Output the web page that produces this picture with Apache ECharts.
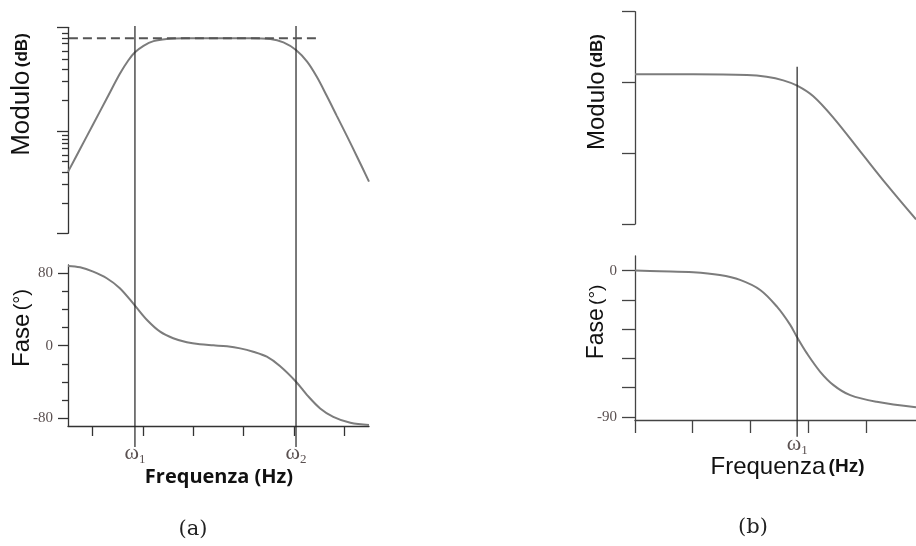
<!DOCTYPE html>
<html>
<head>
<meta charset="utf-8">
<script src="https://cdn.jsdelivr.net/npm/echarts@6/dist/echarts.min.js"></script>
<style>html,body{margin:0;padding:0;background:#fff}#c{width:916px;height:546px}</style>
</head>
<body>
<div id="c"></div>
<script>
// ---------- (a) band-pass: x = log10(frequency) ----------
const magA_x  = [0.51, 0.75, 1.01, 1.28, 1.54, 1.71, 1.84, 2.01, 2.21, 2.47, 2.84, 3.53, 4.13, 4.53, 4.79, 5.04, 5.26, 5.45, 5.65, 5.85, 6.05, 6.25, 6.49];
const magA_db = [-28.6, -23.7, -18.4, -12.9, -7.6, -4.7, -3.0, -1.6, -0.6, -0.15, 0, 0, 0, -0.15, -0.86, -2.5, -5.0, -8.2, -12.3, -16.6, -20.9, -25.3, -30.7];
const phA_x   = [0.51, 0.75, 1.01, 1.28, 1.54, 1.84, 2.08, 2.34, 2.60, 2.87, 3.13, 3.40, 3.67, 3.93, 4.19, 4.46, 4.72, 5.04, 5.26, 5.52, 5.78, 6.12, 6.49];
const phA_deg = [88.0, 86.5, 81.7, 74.4, 63.4, 44.2, 28.4, 15.5, 8.2, 3.8, 1.5, 0.4, -0.7, -2.9, -6.6, -12.1, -22.4, -39.7, -54.4, -69.1, -78.4, -85.0, -87.5];
const omegaA = [1.84, 5.04];
const omegaA_names = ['1', '2'];
const refA_x = [0.25, 5.52];      // dashed pass-band reference (0 dB)
const refA_db = [0, 0];
const xTicksA = [1, 2, 3, 4, 5, 6];
const magA_minorTicks = [1.07, 0, -1.07, -2.72, -4.50, -6.64, -9.29, -13.21, -20.86, -21.56, -22.48, -23.55, -24.99, -26.42, -28.78, -31.26, -35.33];
const magA_majorTicks = [2.36, -20, -41.76];
const phA_minorTicks = [-60, -40, -20, 20, 40, 60];
const phA_majorTicks = [-80, 0, 80];

// ---------- (b) low-pass ----------
const magB_x  = [0, 1.01, 1.94, 2.28, 2.57, 2.81, 3.09, 3.44, 3.90, 4.36, 4.87];
const magB_db = [2.3, 2.3, 2.1, 1.6, 0.6, -0.9, -3.9, -10.0, -19.4, -28.8, -38.7];
const phB_x   = [0, 0.43, 1.01, 1.47, 1.82, 2.17, 2.46, 2.69, 2.81, 2.98, 3.21, 3.44, 3.73, 4.19, 4.87];
const phB_deg = [0, -0.4, -1.0, -2.7, -5.7, -11.9, -22.2, -33.4, -41.1, -51.0, -62.3, -70.5, -76.7, -80.8, -84.2];
const omegaB = [2.81];
const omegaB_names = ['1'];
const xTicksB = [0, 1, 2, 3, 4];
const magB_ticks = [20, 0, -20, -40];
const phB_ticks = [0, -18, -36, -54, -72, -90];
const phB_labels = [0, -90];

const zip = (a, b) => a.map((v, i) => [v, b[i]]);

const AX = '#333', AXB = '#444', CURVE = '#7c7c7c', VLINE = '#222', TXT = '#111', TICKTXT = '#5a5050';
const serif = 'Liberation Serif';
const sans = 'Liberation Sans';

const omegaRich = {
  w: { fontFamily: serif, fontSize: 22, color: TICKTXT, lineHeight: 24, verticalAlign: 'top' },
  s: { fontFamily: serif, fontSize: 13, color: TICKTXT, lineHeight: 13, verticalAlign: 'bottom' }
};

function hiddenX(gi, min, max) {
  return { type: 'value', gridIndex: gi, min, max, show: false, splitLine: { show: false } };
}
function hiddenY(gi, min, max) {
  return { type: 'value', gridIndex: gi, min, max, show: false, splitLine: { show: false } };
}
const curveStyle = { smooth: 0.35, symbol: 'none', lineStyle: { color: CURVE, width: 2 } };

const option = {
  animation: false,
  backgroundColor: '#fff',
  grid: [
    { left: 68, top: 27.3, width: 301, height: 206 },   // 0 A magnitude
    { left: 68, top: 265, width: 301, height: 161 },    // 1 A phase
    { left: 635, top: 11.7, width: 281, height: 212.3 },// 2 B magnitude
    { left: 635, top: 256, width: 281, height: 164 },   // 3 B phase
    { left: 68, top: 26, width: 301, height: 421 },     // 4 A omega lines
    { left: 635, top: 66.7, width: 281, height: 370 }   // 5 B omega lines
  ],
  xAxis: [
    hiddenX(0, 0.51, 6.49),
    { type: 'value', gridIndex: 1, min: 0.51, max: 6.49, position: 'bottom',
      splitLine: { show: false },
      axisLine: { onZero: false, lineStyle: { color: AX, width: 1.3 } },
      axisTick: { customValues: xTicksA, length: 10, lineStyle: { color: AX, width: 1.3 } },
      axisLabel: { customValues: omegaA, margin: 16,
        formatter: (v) => '{w|ω}{s|' + omegaA_names[omegaA.indexOf(v)] + '}', rich: omegaRich } },
    hiddenX(2, 0, 4.87),
    { type: 'value', gridIndex: 3, min: 0, max: 4.87, position: 'bottom',
      splitLine: { show: false },
      axisLine: { onZero: false, lineStyle: { color: AXB, width: 1.3 } },
      axisTick: { customValues: xTicksB, length: 13, lineStyle: { color: AXB, width: 1.3 } },
      axisLabel: { customValues: omegaB, margin: 13,
        formatter: (v) => '{w|ω}{s|' + omegaB_names[omegaB.indexOf(v)] + '}', rich: omegaRich } },
    hiddenX(4, 0.51, 6.49),
    hiddenX(5, 0, 4.87)
  ],
  yAxis: [
    { type: 'value', gridIndex: 0, position: 'left', min: -41.76, max: 2.36, splitLine: { show: false },
      axisLine: { show: true, onZero: false, lineStyle: { color: AX, width: 1.3 } },
      axisTick: { customValues: magA_minorTicks, length: 6, lineStyle: { color: AX, width: 1.3 } },
      axisLabel: { show: false } },
    { type: 'value', gridIndex: 0, position: 'left', min: -41.76, max: 2.36, splitLine: { show: false },
      axisLine: { show: false, onZero: false },
      axisTick: { customValues: magA_majorTicks, length: 11, lineStyle: { color: AX, width: 1.3 } },
      axisLabel: { show: false } },
    { type: 'value', gridIndex: 1, position: 'left', min: -88.5, max: 89, splitLine: { show: false },
      axisLine: { show: true, onZero: false, lineStyle: { color: AX, width: 1.3 } },
      axisTick: { customValues: phA_minorTicks, length: 6, lineStyle: { color: AX, width: 1.3 } },
      axisLabel: { show: false } },
    { type: 'value', gridIndex: 1, position: 'left', min: -88.5, max: 89, splitLine: { show: false },
      axisLine: { show: false, onZero: false },
      axisTick: { customValues: phA_majorTicks, length: 10, lineStyle: { color: AX, width: 1.3 } },
      axisLabel: { customValues: phA_majorTicks, margin: 15, fontFamily: serif, fontSize: 15, color: TICKTXT } },
    { type: 'value', gridIndex: 2, position: 'left', min: -40, max: 20, splitLine: { show: false },
      axisLine: { show: true, onZero: false, lineStyle: { color: AXB, width: 1.3 } },
      axisTick: { customValues: magB_ticks, length: 13, lineStyle: { color: AXB, width: 1.3 } },
      axisLabel: { show: false } },
    { type: 'value', gridIndex: 3, position: 'left', min: -92, max: 9, splitLine: { show: false },
      axisLine: { show: true, onZero: false, lineStyle: { color: AXB, width: 1.3 } },
      axisTick: { customValues: phB_ticks, length: 13, lineStyle: { color: AXB, width: 1.3 } },
      axisLabel: { customValues: phB_labels, margin: 18, fontFamily: serif, fontSize: 15, color: TICKTXT } },
    hiddenY(4, 0, 1),
    hiddenY(5, 0, 1)
  ],
  series: [
    Object.assign({ type: 'line', xAxisIndex: 0, yAxisIndex: 0, data: zip(magA_x, magA_db) }, curveStyle),
    { type: 'line', xAxisIndex: 0, yAxisIndex: 0, data: zip(refA_x, refA_db), symbol: 'none', clip: false, z: 5,
      lineStyle: { color: '#555', width: 2, type: [9, 5] } },
    Object.assign({ type: 'line', xAxisIndex: 1, yAxisIndex: 2, data: zip(phA_x, phA_deg) }, curveStyle),
    Object.assign({ type: 'line', xAxisIndex: 2, yAxisIndex: 4, data: zip(magB_x, magB_db) }, curveStyle),
    Object.assign({ type: 'line', xAxisIndex: 3, yAxisIndex: 5, data: zip(phB_x, phB_deg) }, curveStyle),
    ...omegaA.map(w => ({ type: 'line', xAxisIndex: 4, yAxisIndex: 6, data: [[w, 0], [w, 1]], symbol: 'none',
      lineStyle: { color: VLINE, width: 1.2 } })),
    ...omegaB.map(w => ({ type: 'line', xAxisIndex: 5, yAxisIndex: 7, data: [[w, 0], [w, 1]], symbol: 'none',
      lineStyle: { color: VLINE, width: 1.2 } }))
  ],
  graphic: [
    { type: 'text', x: 22, y: 94.5, rotation: Math.PI / 2, silent: true,
      style: { text: '{a|Modulo} {b|(dB)}', align: 'center', verticalAlign: 'middle',
        rich: { a: { fontFamily: sans, fontSize: 26, fill: TXT }, b: { fontFamily: sans, fontSize: 17, fontWeight: 'bold', fill: TXT } } } },
    { type: 'text', x: 22, y: 328, rotation: Math.PI / 2, silent: true,
      style: { text: '{a|Fase} {b|(°)}', align: 'center', verticalAlign: 'middle',
        rich: { a: { fontFamily: sans, fontSize: 24, fill: TXT }, b: { fontFamily: sans, fontSize: 20, fill: TXT } } } },
    { type: 'text', x: 597, y: 92, rotation: Math.PI / 2, silent: true,
      style: { text: '{a|Modulo} {b|(dB)}', align: 'center', verticalAlign: 'middle',
        rich: { a: { fontFamily: sans, fontSize: 24, fill: TXT }, b: { fontFamily: sans, fontSize: 17, fontWeight: 'bold', fill: TXT } } } },
    { type: 'text', x: 597, y: 322, rotation: Math.PI / 2, silent: true,
      style: { text: '{a|Fase} {b|(°)}', align: 'center', verticalAlign: 'middle',
        rich: { a: { fontFamily: sans, fontSize: 23, fill: TXT }, b: { fontFamily: sans, fontSize: 19, fill: TXT } } } },
    { type: 'text', x: 219, y: 477, silent: true,
      style: { text: 'Frequenza (Hz)', align: 'center', verticalAlign: 'middle',
        fontFamily: 'Open Sans', fontWeight: 'bold', fontSize: 20, fill: TXT } },
    { type: 'text', x: 787.5, y: 467, silent: true,
      style: { text: '{a|Frequenza} {b|(Hz)}', align: 'center', verticalAlign: 'middle',
        rich: { a: { fontFamily: sans, fontSize: 24, fill: TXT }, b: { fontFamily: sans, fontSize: 19, fontWeight: 'bold', fill: TXT } } } },
    { type: 'text', x: 193, y: 530, silent: true,
      style: { text: '(a)', align: 'center', verticalAlign: 'middle', fontFamily: 'DejaVu Serif', fontSize: 21, fill: '#222' } },
    { type: 'text', x: 753, y: 528, silent: true,
      style: { text: '(b)', align: 'center', verticalAlign: 'middle', fontFamily: 'DejaVu Serif', fontSize: 21, fill: '#222' } }
  ]
};

const chart = echarts.init(document.getElementById('c'), null, { renderer: 'canvas' });
chart.setOption(option);
</script>
</body>
</html>
